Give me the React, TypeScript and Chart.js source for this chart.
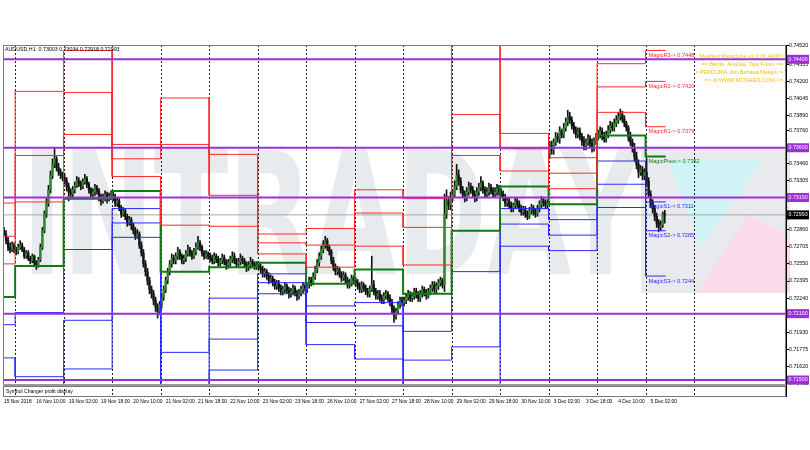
import React, { useEffect, useRef } from "react";
import { Chart, registerables } from "chart.js";
Chart.register(...registerables);

const FONT = "'Liberation Sans', Arial, sans-serif";

// ---- time axis (H1 bars, bar 0 = 15 Nov 18:00) ----
const xTickIdx = [0, 16, 32, 48, 64, 80, 96, 112, 128, 144, 160, 176, 192, 208, 224, 240, 256, 272, 288, 304, 320];
const xTickLabels = ["15 Nov 2018", "16 Nov 10:00", "19 Nov 02:00", "19 Nov 18:00", "20 Nov 10:00", "21 Nov 02:00", "21 Nov 18:00", "22 Nov 10:00", "23 Nov 02:00", "23 Nov 18:00", "26 Nov 10:00", "27 Nov 02:00", "27 Nov 18:00", "28 Nov 10:00", "29 Nov 02:00", "29 Nov 18:00", "30 Nov 10:00", "3 Dec 02:00", "3 Dec 18:00", "4 Dec 10:00", "5 Dec 02:00"];
const dayStart = [0, 6, 30, 54, 78, 102, 126, 150, 174, 198, 222, 246, 270, 294, 318];
const dayEnd = [6, 30, 54, 78, 102, 126, 150, 174, 198, 222, 246, 270, 294, 318, 328];
const separatorIdx = [6, 30, 54, 78, 102, 126, 150, 174, 198, 222, 246, 270, 294, 318, 342];

// ---- price axis ----
const yTickValues = [0.7452, 0.74355, 0.742, 0.74045, 0.7389, 0.7376, 0.73615, 0.7346, 0.73305, 0.7315, 0.73005, 0.7286, 0.72705, 0.7255, 0.72395, 0.7224, 0.72085, 0.7193, 0.71775, 0.7162, 0.71465];
const keyLevels = [0.744, 0.736, 0.7315, 0.721, 0.715];
const bidPrice = 0.72993;

// ---- candles ----
const openPrice = [
  0.7285,0.7282,0.7276,0.7270,0.7268,0.7272,
  0.7268,0.7266,0.7270,0.7272,0.7268,0.7262,0.7265,0.7260,0.7258,0.7262,0.7256,0.7254,0.7259,0.7270,0.7285,0.7300,0.7310,0.7322,0.7335,0.7345,0.7350,0.7342,0.7338,0.7335,
  0.7333,0.7330,0.7325,0.7320,0.7318,0.7322,0.7326,0.7330,0.7328,0.7325,0.7329,0.7332,0.7327,0.7322,0.7318,0.7320,0.7324,0.7321,0.7316,0.7312,0.7315,0.7318,0.7314,0.7316,
  0.7318,0.7315,0.7310,0.7312,0.7306,0.7300,0.7303,0.7298,0.7292,0.7295,0.7290,0.7285,0.7280,0.7282,0.7272,0.7265,0.7255,0.7248,0.7240,0.7232,0.7228,0.7222,0.7216,0.7212,
  0.7218,0.7225,0.7232,0.7240,0.7248,0.7255,0.7260,0.7258,0.7262,0.7266,0.7262,0.7258,0.7260,0.7264,0.7268,0.7265,0.7262,0.7266,0.7270,0.7274,0.7270,0.7265,0.7262,0.7264,
  0.7262,0.7260,0.7258,0.7262,0.7259,0.7256,0.7258,0.7261,0.7257,0.7254,0.7256,0.7259,0.7262,0.7258,0.7255,0.7257,0.7260,0.7258,0.7255,0.7252,0.7254,0.7257,0.7255,0.7253,
  0.7254,0.7252,0.7250,0.7246,0.7248,0.7244,0.7240,0.7242,0.7238,0.7235,0.7237,0.7233,0.7230,0.7232,0.7235,0.7231,0.7228,0.7230,0.7233,0.7229,0.7226,0.7229,0.7232,0.7235,
  0.7232,0.7236,0.7240,0.7238,0.7244,0.7250,0.7256,0.7262,0.7268,0.7272,0.7276,0.7270,0.7266,0.7258,0.7252,0.7248,0.7250,0.7246,0.7242,0.7245,0.7240,0.7236,0.7238,0.7242,
  0.7240,0.7238,0.7235,0.7232,0.7236,0.7233,0.7230,0.7228,0.7232,0.7236,0.7230,0.7226,0.7228,0.7224,0.7222,0.7226,0.7228,0.7224,0.7220,0.7214,0.7208,0.7212,0.7218,0.7222,
  0.7220,0.7222,0.7225,0.7228,0.7224,0.7226,0.7230,0.7227,0.7224,0.7228,0.7232,0.7229,0.7226,0.7230,0.7233,0.7236,0.7232,0.7235,0.7238,0.7240,0.7236,0.7300,0.7312,0.7308,
  0.7315,0.7318,0.7325,0.7335,0.7330,0.7322,0.7318,0.7315,0.7320,0.7325,0.7322,0.7318,0.7315,0.7320,0.7324,0.7328,0.7322,0.7318,0.7320,0.7324,0.7321,0.7318,0.7320,0.7323,
  0.7320,0.7318,0.7315,0.7310,0.7312,0.7308,0.7305,0.7308,0.7312,0.7309,0.7305,0.7302,0.7304,0.7300,0.7298,0.7303,0.7306,0.7302,0.7300,0.7305,0.7309,0.7312,0.7310,0.7308,
  0.7355,0.7362,0.7358,0.7365,0.7370,0.7368,0.7375,0.7372,0.7378,0.7383,0.7388,0.7385,0.7380,0.7376,0.7372,0.7375,0.7370,0.7366,0.7362,0.7365,0.7368,0.7364,0.7360,0.7366,
  0.7370,0.7372,0.7375,0.7370,0.7368,0.7372,0.7376,0.7380,0.7378,0.7382,0.7385,0.7388,0.7390,0.7386,0.7382,0.7378,0.7370,0.7365,0.7360,0.7352,0.7345,0.7338,0.7340,0.7335,
  0.7338,0.7330,0.7318,0.7310,0.7305,0.7298,0.7292,0.7288,0.7290,0.73003,
];
const highPrice = [
  0.7288,0.7285,0.7279,0.7274,0.7275,0.7274,
  0.7270,0.7273,0.7276,0.7274,0.7270,0.7267,0.7267,0.7262,0.7264,0.7263,0.7258,0.7261,0.7273,0.7288,0.7303,0.7314,0.7326,0.7339,0.7350,0.7360,0.7352,0.7346,0.7341,0.7338,
  0.7337,0.7333,0.7328,0.7323,0.7325,0.7329,0.7334,0.7333,0.7330,0.7332,0.7336,0.7334,0.7329,0.7324,0.7323,0.7327,0.7326,0.7323,0.7318,0.7318,0.7321,0.7320,0.7319,0.7321,
  0.7321,0.7318,0.7315,0.7314,0.7308,0.7306,0.7305,0.7300,0.7298,0.7297,0.7292,0.7288,0.7286,0.7284,0.7275,0.7268,0.7258,0.7251,0.7243,0.7235,0.7231,0.7225,0.7219,0.7221,
  0.7228,0.7235,0.7243,0.7251,0.7258,0.7264,0.7263,0.7265,0.7270,0.7268,0.7264,0.7263,0.7267,0.7272,0.7270,0.7267,0.7269,0.7274,0.7280,0.7276,0.7272,0.7267,0.7267,0.7266,
  0.7265,0.7263,0.7265,0.7264,0.7262,0.7260,0.7264,0.7263,0.7259,0.7259,0.7262,0.7266,0.7265,0.7260,0.7260,0.7264,0.7262,0.7260,0.7257,0.7257,0.7261,0.7259,0.7257,0.7257,
  0.7257,0.7255,0.7253,0.7251,0.7250,0.7247,0.7245,0.7244,0.7241,0.7240,0.7240,0.7236,0.7235,0.7238,0.7237,0.7234,0.7233,0.7236,0.7235,0.7231,0.7232,0.7235,0.7238,0.7237,
  0.7238,0.7243,0.7243,0.7247,0.7253,0.7259,0.7265,0.7271,0.7276,0.7280,0.7278,0.7272,0.7268,0.7261,0.7255,0.7253,0.7252,0.7248,0.7248,0.7247,0.7243,0.7241,0.7245,0.7244,
  0.7243,0.7241,0.7238,0.7239,0.7238,0.7236,0.7233,0.7235,0.7262,0.7240,0.7233,0.7231,0.7231,0.7227,0.7229,0.7231,0.7230,0.7227,0.7223,0.7217,0.7215,0.7221,0.7225,0.7225,
  0.7225,0.7228,0.7231,0.7230,0.7229,0.7233,0.7233,0.7230,0.7231,0.7235,0.7234,0.7232,0.7233,0.7236,0.7239,0.7239,0.7238,0.7241,0.7243,0.7242,0.7318,0.7322,0.7316,0.7320,
  0.7322,0.7330,0.7345,0.7340,0.7333,0.7325,0.7321,0.7324,0.7329,0.7328,0.7325,0.7321,0.7324,0.7328,0.7334,0.7330,0.7325,0.7324,0.7328,0.7327,0.7324,0.7324,0.7327,0.7326,
  0.7323,0.7321,0.7318,0.7315,0.7315,0.7311,0.7310,0.7315,0.7314,0.7312,0.7308,0.7307,0.7307,0.7303,0.7306,0.7309,0.7308,0.7305,0.7308,0.7312,0.7316,0.7315,0.7313,0.7313,
  0.7366,0.7366,0.7368,0.7374,0.7373,0.7379,0.7377,0.7382,0.7387,0.7394,0.7392,0.7388,0.7383,0.7379,0.7378,0.7378,0.7373,0.7370,0.7368,0.7372,0.7371,0.7368,0.7369,0.7373,
  0.7376,0.7379,0.7378,0.7374,0.7375,0.7380,0.7384,0.7383,0.7386,0.7389,0.7392,0.7395,0.7393,0.7389,0.7384,0.7380,0.7374,0.7368,0.7364,0.7356,0.7349,0.7344,0.7343,0.7341,
  0.7350,0.7333,0.7321,0.7313,0.7308,0.7301,0.7295,0.7294,0.7302,0.73034,
];
const lowPrice = [
  0.7280,0.7273,0.7267,0.7265,0.7266,0.7265,
  0.7263,0.7264,0.7268,0.7266,0.7260,0.7260,0.7258,0.7255,0.7256,0.7253,0.7250,0.7252,0.7257,0.7268,0.7283,0.7297,0.7307,0.7319,0.7332,0.7342,0.7339,0.7335,0.7332,0.7330,
  0.7327,0.7321,0.7312,0.7315,0.7315,0.7319,0.7324,0.7325,0.7322,0.7323,0.7327,0.7324,0.7319,0.7314,0.7315,0.7317,0.7318,0.7312,0.7308,0.7310,0.7312,0.7310,0.7312,0.7313,
  0.7312,0.7307,0.7307,0.7303,0.7297,0.7298,0.7295,0.7289,0.7290,0.7286,0.7282,0.7277,0.7278,0.7269,0.7262,0.7252,0.7244,0.7236,0.7228,0.7224,0.7218,0.7212,0.7206,0.7209,
  0.7215,0.7222,0.7229,0.7237,0.7245,0.7252,0.7255,0.7255,0.7259,0.7259,0.7255,0.7255,0.7257,0.7262,0.7262,0.7259,0.7260,0.7263,0.7268,0.7267,0.7262,0.7259,0.7260,0.7259,
  0.7257,0.7255,0.7255,0.7256,0.7253,0.7253,0.7255,0.7254,0.7250,0.7251,0.7253,0.7256,0.7255,0.7252,0.7253,0.7254,0.7255,0.7252,0.7248,0.7249,0.7251,0.7252,0.7250,0.7250,
  0.7250,0.7247,0.7243,0.7243,0.7241,0.7237,0.7238,0.7235,0.7232,0.7232,0.7230,0.7227,0.7227,0.7229,0.7228,0.7224,0.7225,0.7227,0.7226,0.7222,0.7223,0.7226,0.7229,0.7230,
  0.7229,0.7233,0.7235,0.7236,0.7241,0.7247,0.7253,0.7259,0.7265,0.7269,0.7267,0.7263,0.7255,0.7249,0.7245,0.7245,0.7243,0.7239,0.7240,0.7237,0.7233,0.7233,0.7235,0.7237,
  0.7235,0.7232,0.7229,0.7229,0.7230,0.7227,0.7225,0.7225,0.7230,0.7227,0.7223,0.7223,0.7221,0.7219,0.7219,0.7223,0.7221,0.7217,0.7211,0.7202,0.7205,0.7209,0.7215,0.7217,
  0.7217,0.7219,0.7222,0.7221,0.7221,0.7223,0.7224,0.7221,0.7221,0.7225,0.7226,0.7223,0.7224,0.7227,0.7230,0.7229,0.7229,0.7232,0.7235,0.7233,0.7230,0.7296,0.7304,0.7304,
  0.7312,0.7315,0.7322,0.7326,0.7319,0.7315,0.7311,0.7312,0.7317,0.7319,0.7315,0.7311,0.7312,0.7317,0.7321,0.7319,0.7315,0.7315,0.7317,0.7318,0.7315,0.7315,0.7317,0.7317,
  0.7315,0.7312,0.7307,0.7307,0.7305,0.7302,0.7302,0.7305,0.7306,0.7302,0.7299,0.7299,0.7297,0.7295,0.7296,0.7300,0.7299,0.7297,0.7298,0.7302,0.7306,0.7307,0.7305,0.7305,
  0.7350,0.7354,0.7354,0.7362,0.7365,0.7364,0.7369,0.7369,0.7375,0.7380,0.7382,0.7377,0.7373,0.7369,0.7369,0.7367,0.7362,0.7358,0.7358,0.7362,0.7361,0.7356,0.7357,0.7363,
  0.7367,0.7369,0.7367,0.7365,0.7365,0.7369,0.7373,0.7375,0.7375,0.7379,0.7382,0.7385,0.7383,0.7379,0.7375,0.7366,0.7362,0.7356,0.7348,0.7341,0.7333,0.7335,0.7331,0.7331,
  0.7325,0.7315,0.7306,0.7301,0.7294,0.7288,0.7284,0.7285,0.7288,0.72918,
];
const closePrice = [
  0.7282,0.7276,0.7270,0.7268,0.7272,0.7268,
  0.7266,0.7270,0.7272,0.7268,0.7262,0.7265,0.7260,0.7258,0.7262,0.7256,0.7254,0.7259,0.7270,0.7285,0.7300,0.7310,0.7322,0.7335,0.7345,0.7350,0.7342,0.7338,0.7335,0.7333,
  0.7330,0.7325,0.7320,0.7318,0.7322,0.7326,0.7330,0.7328,0.7325,0.7329,0.7332,0.7327,0.7322,0.7318,0.7320,0.7324,0.7321,0.7316,0.7312,0.7315,0.7318,0.7314,0.7316,0.7318,
  0.7315,0.7310,0.7312,0.7306,0.7300,0.7303,0.7298,0.7292,0.7295,0.7290,0.7285,0.7280,0.7282,0.7272,0.7265,0.7255,0.7248,0.7240,0.7232,0.7228,0.7222,0.7216,0.7212,0.7218,
  0.7225,0.7232,0.7240,0.7248,0.7255,0.7260,0.7258,0.7262,0.7266,0.7262,0.7258,0.7260,0.7264,0.7268,0.7265,0.7262,0.7266,0.7270,0.7274,0.7270,0.7265,0.7262,0.7264,0.7262,
  0.7260,0.7258,0.7262,0.7259,0.7256,0.7258,0.7261,0.7257,0.7254,0.7256,0.7259,0.7262,0.7258,0.7255,0.7257,0.7260,0.7258,0.7255,0.7252,0.7254,0.7257,0.7255,0.7253,0.7254,
  0.7252,0.7250,0.7246,0.7248,0.7244,0.7240,0.7242,0.7238,0.7235,0.7237,0.7233,0.7230,0.7232,0.7235,0.7231,0.7228,0.7230,0.7233,0.7229,0.7226,0.7229,0.7232,0.7235,0.7233,
  0.7236,0.7240,0.7238,0.7244,0.7250,0.7256,0.7262,0.7268,0.7272,0.7276,0.7270,0.7266,0.7258,0.7252,0.7248,0.7250,0.7246,0.7242,0.7245,0.7240,0.7236,0.7238,0.7242,0.7240,
  0.7238,0.7235,0.7232,0.7236,0.7233,0.7230,0.7228,0.7232,0.7236,0.7230,0.7226,0.7228,0.7224,0.7222,0.7226,0.7228,0.7224,0.7220,0.7214,0.7208,0.7212,0.7218,0.7222,0.7220,
  0.7222,0.7225,0.7228,0.7224,0.7226,0.7230,0.7227,0.7224,0.7228,0.7232,0.7229,0.7226,0.7230,0.7233,0.7236,0.7232,0.7235,0.7238,0.7240,0.7236,0.7300,0.7312,0.7308,0.7315,
  0.7318,0.7325,0.7335,0.7330,0.7322,0.7318,0.7315,0.7320,0.7325,0.7322,0.7318,0.7315,0.7320,0.7324,0.7328,0.7322,0.7318,0.7320,0.7324,0.7321,0.7318,0.7320,0.7323,0.7320,
  0.7318,0.7315,0.7310,0.7312,0.7308,0.7305,0.7308,0.7312,0.7309,0.7305,0.7302,0.7304,0.7300,0.7298,0.7303,0.7306,0.7302,0.7300,0.7305,0.7309,0.7312,0.7310,0.7308,0.7310,
  0.7362,0.7358,0.7365,0.7370,0.7368,0.7375,0.7372,0.7378,0.7383,0.7388,0.7385,0.7380,0.7376,0.7372,0.7375,0.7370,0.7366,0.7362,0.7365,0.7368,0.7364,0.7360,0.7366,0.7370,
  0.7372,0.7375,0.7370,0.7368,0.7372,0.7376,0.7380,0.7378,0.7382,0.7385,0.7388,0.7390,0.7386,0.7382,0.7378,0.7370,0.7365,0.7360,0.7352,0.7345,0.7338,0.7340,0.7335,0.7338,
  0.7330,0.7318,0.7310,0.7305,0.7298,0.7292,0.7288,0.7290,0.7300,0.72993,
];

// ---- daily MagicLine pivot levels (one per day) ----
const levelR3 = [0.7310, 0.7411, 0.7448, 0.7363, 0.7405, 0.7354, 0.7282, 0.7287, 0.7322, 0.7314, 0.7458, 0.7373, 0.7351, 0.7436, 0.7448];
const levelR2 = [0.7280, 0.7353, 0.7410, 0.7350, 0.7363, 0.7317, 0.7274, 0.7272, 0.7301, 0.7288, 0.7390, 0.7359, 0.7337, 0.7415, 0.7420];
const levelR1 = [0.7255, 0.7311, 0.7372, 0.7334, 0.7290, 0.7289, 0.7264, 0.7252, 0.7271, 0.7254, 0.7353, 0.7339, 0.7323, 0.7392, 0.7379];
const levelP = [0.7225, 0.7253, 0.7314, 0.7321, 0.7248, 0.7252, 0.7256, 0.7237, 0.7250, 0.7228, 0.7285, 0.7325, 0.7309, 0.7371, 0.7352];
const levelS1 = [0.7200, 0.7211, 0.7268, 0.7305, 0.7175, 0.7224, 0.7246, 0.7217, 0.7220, 0.7194, 0.7248, 0.7305, 0.7295, 0.7348, 0.7311];
const levelS2 = [0.7170, 0.7153, 0.7204, 0.7292, 0.7133, 0.7187, 0.7238, 0.7202, 0.7199, 0.7168, 0.7180, 0.7291, 0.7281, 0.7327, 0.7285];
const levelS3 = [0.7145, 0.7111, 0.7160, 0.7279, 0.7060, 0.7159, 0.7228, 0.7182, 0.7169, 0.7134, 0.7143, 0.7271, 0.7267, 0.7306, 0.7244];

const levelSeries = [
  { name: "MagicR3", values: levelR3, color: "#ff2a2a", width: 1 },
  { name: "MagicR2", values: levelR2, color: "#ff2a2a", width: 1 },
  { name: "MagicR1", values: levelR1, color: "#ff2a2a", width: 1 },
  { name: "MagicPivot", values: levelP, color: "#137a13", width: 2 },
  { name: "MagicS1", values: levelS1, color: "#2a2aff", width: 1 },
  { name: "MagicS2", values: levelS2, color: "#2a2aff", width: 1 },
  { name: "MagicS3", values: levelS3, color: "#2a2aff", width: 1 },
];

const bannerLines = [
  "Moshed MagicLine v2.0 @ Aktif!!!",
  "== Berita, Analisa, Tips Forex ==",
  "= PERCUMA dlm Bahasa Melayu =",
  "=> di WWW.MOSHED.COM <=",
];

const PURPLE = "#9b30d8";

const decor = {
  id: "decor",
  beforeDraw(chart: any) {
    const { ctx, chartArea: a, scales } = chart;
    const x = scales.x;
    ctx.save();
    // watermark
    ctx.fillStyle = "rgba(200,206,213,0.42)";
    ctx.fillRect(641, 148, 149, 145);
    ctx.fillStyle = "rgba(205,210,216,0.45)";
    ctx.font = "bold 172px 'DejaVu Sans'";
    ctx.textBaseline = "alphabetic";
    ctx.fillText("INTRADAY", 22, 274, 618);
    ctx.fillStyle = "rgba(200,248,248,0.75)";
    ctx.beginPath();
    ctx.moveTo(668, 160); ctx.lineTo(762, 160); ctx.lineTo(702, 248); ctx.closePath(); ctx.fill();
    ctx.fillStyle = "rgba(253,215,233,0.8)";
    ctx.beginPath();
    ctx.moveTo(698, 292); ctx.lineTo(748, 214); ctx.lineTo(790, 236); ctx.lineTo(790, 292); ctx.closePath(); ctx.fill();
    // period separators
    ctx.strokeStyle = "#222";
    ctx.lineWidth = 1;
    ctx.setLineDash([2, 2]);
    for (const i of separatorIdx) {
      const px = Math.round(x.getPixelForValue(i - 0.5)) + 0.5;
      ctx.beginPath();
      ctx.moveTo(px, a.top);
      ctx.lineTo(px, a.bottom + 12);
      ctx.stroke();
    }
    ctx.restore();
  },
  afterDraw(chart: any) {
    const { ctx, chartArea: a, scales } = chart;
    const x = scales.x, y = scales.y;
    ctx.save();
    // frame
    ctx.strokeStyle = "#7a7a7a";
    ctx.lineWidth = 1;
    ctx.strokeRect(a.left + 0.5, a.top + 0.5, a.right - a.left - 1, a.bottom - a.top);
    // sub window
    ctx.fillStyle = "#9a9a9a";
    ctx.fillRect(a.left, a.bottom, a.right - a.left, 2);
    ctx.strokeStyle = "#777";
    ctx.strokeRect(a.left + 0.5, a.bottom + 2.5, a.right - a.left - 1, 10);
    ctx.fillStyle = "#000";
    ctx.font = `5px ${FONT}`;
    ctx.textBaseline = "middle";
    ctx.textAlign = "left";
    ctx.fillText("Symbol Changer profit display", 6, a.bottom + 7.5);
    ctx.beginPath();
    ctx.moveTo(a.right + 0.5, a.bottom);
    ctx.lineTo(a.right + 0.5, a.bottom + 13);
    ctx.strokeStyle = "#000";
    ctx.stroke();
    // header
    const n = closePrice.length - 1;
    ctx.font = `5.3px ${FONT}`;
    ctx.fillText(`AUDUSD,H1  ${openPrice[n].toFixed(5)} ${highPrice[n].toFixed(5)} ${lowPrice[n].toFixed(5)} ${closePrice[n].toFixed(5)}`, 5, a.top + 4.5);
    // pivot labels on the current day
    const d = dayStart.length - 1;
    const lx = x.getPixelForValue(dayStart[d] - 0.5) + 3;
    ctx.font = `5.6px ${FONT}`;
    for (const s of levelSeries) {
      const v = s.values[d];
      ctx.fillStyle = s.color;
      ctx.fillText(`${s.name}-> ${v.toFixed(4)}`, lx, y.getPixelForValue(v) + 5);
    }
    // banner
    ctx.fillStyle = "#f2c200";
    ctx.textAlign = "right";
    ctx.font = `5.6px ${FONT}`;
    bannerLines.forEach((t, i) => ctx.fillText(t, a.right - 3, a.top + 11 + i * 8.2));
    // axis boxes
    ctx.textAlign = "left";
    ctx.font = `5.3px ${FONT}`;
    for (const v of keyLevels) {
      const py = y.getPixelForValue(v);
      ctx.fillStyle = PURPLE;
      ctx.fillRect(a.right + 1, py - 4.5, 22, 9);
      ctx.fillStyle = "#fff";
      ctx.fillText(v.toFixed(5), a.right + 2.5, py);
    }
    const by = y.getPixelForValue(bidPrice);
    ctx.fillStyle = "#000";
    ctx.fillRect(a.right + 1, by - 4.5, 22, 9);
    ctx.fillStyle = "#fff";
    ctx.fillText(bidPrice.toFixed(5), a.right + 2.5, by);
    ctx.restore();
  },
};

function levelPoints(values: number[]) {
  return dayStart.flatMap((s, d) => [
    { x: s - 0.5, y: values[d] },
    { x: dayEnd[d] - 0.5, y: values[d] },
  ]);
}

export default function App() {
  const ref = useRef<HTMLCanvasElement>(null);
  useEffect(() => {
    document.body.style.margin = "0";
    const wick = closePrice.map((_, i) => ({ x: i, y: [lowPrice[i], highPrice[i]] }));
    const body = closePrice.map((c, i) => ({ x: i, y: [openPrice[i], c] }));
    const datasets: any[] = [];
    keyLevels.forEach((v) =>
      datasets.push({ type: "line", data: [{ x: -0.5, y: v }, { x: 387, y: v }], borderColor: PURPLE, borderWidth: 2, pointRadius: 0, order: 1 })
    );
    datasets.push({ type: "line", data: [{ x: -0.5, y: bidPrice }, { x: 387, y: bidPrice }], borderColor: "#a8a8a8", borderWidth: 1, pointRadius: 0, order: 6 });
    levelSeries.forEach((s) =>
      datasets.push({ type: "line", data: levelPoints(s.values), borderColor: s.color, borderWidth: s.width, pointRadius: 0, order: 2 })
    );
    datasets.push({ type: "bar", data: wick, backgroundColor: "#111", barThickness: 1, grouped: false, order: 4 });
    datasets.push({
      type: "bar", data: body, grouped: false, order: 3, barThickness: 1.6, minBarLength: 1,
      backgroundColor: (c: any) => (closePrice[c.dataIndex] >= openPrice[c.dataIndex] ? "#2f8a2f" : "#111"),
    });
    const chart = new Chart(ref.current as HTMLCanvasElement, {
      type: "bar",
      data: { datasets },
      options: {
        responsive: false,
        animation: false,
        events: [],
        layout: { padding: { left: 3, top: 45, right: 0, bottom: 0 } },
        plugins: { legend: { display: false }, tooltip: { enabled: false } },
        scales: {
          x: {
            type: "linear", min: -0.5, max: 387, offset: false,
            grid: { display: true, drawOnChartArea: false, drawTicks: true, tickLength: 15, color: "rgba(0,0,0,0)" },
            border: { display: false },
            afterBuildTicks: (s: any) => { s.ticks = xTickIdx.map((v) => ({ value: v })); },
            afterFit: (s: any) => { s.height = 66; },
            ticks: { autoSkip: false, maxRotation: 0, align: "start", padding: 0, color: "#000", font: { family: FONT, size: 4.9 }, callback: (_v: any, i: number) => xTickLabels[i] },
          },
          y: {
            type: "linear", position: "right", min: 0.71464, max: 0.74529,
            afterBuildTicks: (s: any) => { s.ticks = yTickValues.map((v) => ({ value: v })); },
            afterFit: (s: any) => { s.width = 24; },
            grid: { drawOnChartArea: false, tickLength: 3, color: "#000" },
            border: { display: true, color: "#000" },
            ticks: { autoSkip: false, padding: 0, color: "#000", font: { family: FONT, size: 5.3 }, callback: (v: any) => Number(v).toFixed(5) },
          },
        },
      } as any,
      plugins: [decor],
    });
    return () => chart.destroy();
  }, []);
  return (
    <div style={{ width: 810, height: 450, background: "#fff" }}>
      <canvas ref={ref} width={810} height={450} style={{ display: "block" }} />
    </div>
  );
}
